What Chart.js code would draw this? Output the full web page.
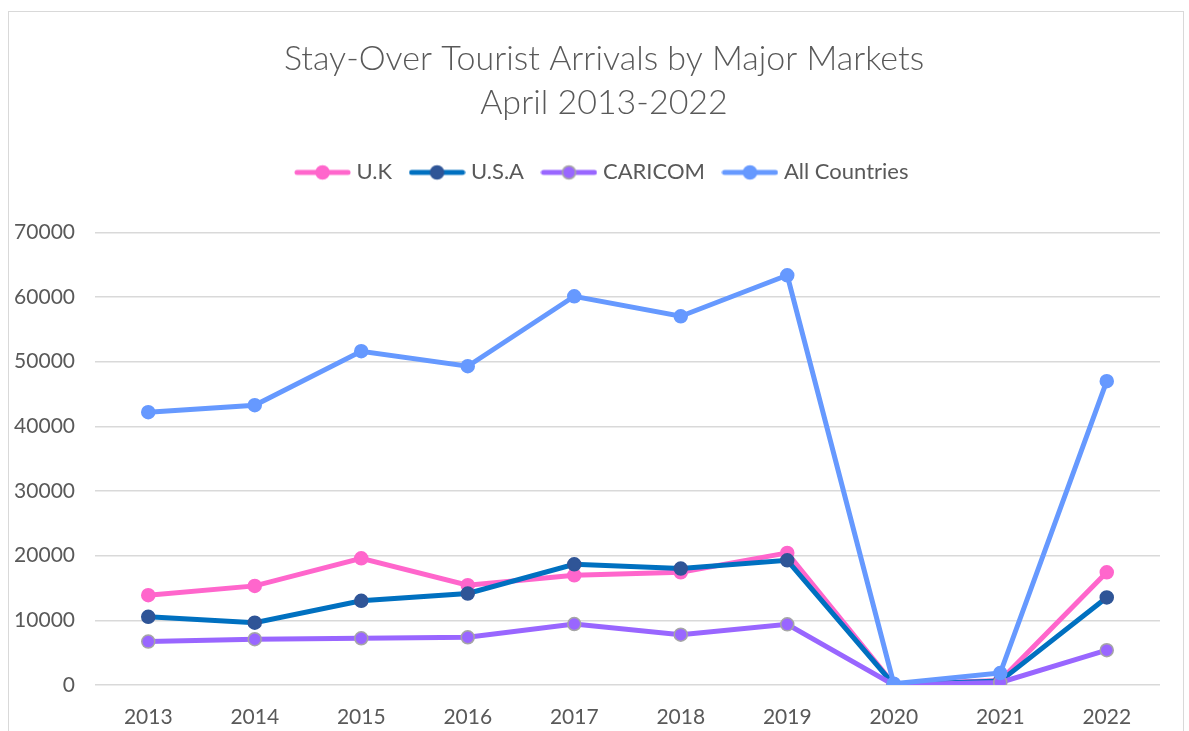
<!DOCTYPE html>
<html>
<head>
<meta charset="utf-8">
<script src="https://cdn.jsdelivr.net/npm/chart.js@4"></script>
<style>
  html, body { margin: 0; padding: 0; background: #fff; overflow: hidden; }
  #frame { position: absolute; left: 8px; top: 11px; width: 1176px; height: 740px; border: 1px solid #d9d9d9; box-sizing: border-box; }
  #wrap { position: absolute; left: 0; top: 0; width: 1194px; height: 731px; }
</style>
</head>
<body>
<div id="frame"></div>
<div id="wrap"><canvas id="chart"></canvas></div>
<script>
const years = ['2013', '2014', '2015', '2016', '2017', '2018', '2019', '2020', '2021', '2022'];
const ukArrivals = [13890, 15330, 19600, 15430, 16970, 17430, 20430, 100, 700, 17430];
const usaArrivals = [10550, 9630, 13020, 14150, 18660, 18000, 19280, 50, 600, 13540];
const caricomArrivals = [6710, 7080, 7230, 7380, 9430, 7790, 9380, 20, 400, 5380];
const allArrivals = [42200, 43280, 51620, 49300, 60120, 57030, 63370, 200, 1850, 46990];
const yTicks = [0, 10000, 20000, 30000, 40000, 50000, 60000, 70000];

const textColor = '#595959';
const fontName = 'Lato, "Open Sans", sans-serif';

// little line+marker swatch for the legend, like Excel's
function makeSwatch(lineColor, pointColor, borderColor) {
  const c = document.createElement('canvas');
  c.width = 57;
  c.height = 18;
  const ctx = c.getContext('2d');
  ctx.strokeStyle = lineColor;
  ctx.lineWidth = 5;
  ctx.lineCap = 'round';
  ctx.beginPath();
  ctx.moveTo(3, 9);
  ctx.lineTo(54, 9);
  ctx.stroke();
  ctx.beginPath();
  ctx.arc(28.5, 9, 6.5, 0, Math.PI * 2);
  ctx.fillStyle = pointColor;
  ctx.fill();
  ctx.lineWidth = 1.5;
  ctx.strokeStyle = borderColor;
  ctx.stroke();
  return c;
}

const series = [
  { label: 'U.K', data: ukArrivals, line: '#ff66cc', point: '#ff66cc', border: '#ff66cc', order: 4 },
  { label: 'U.S.A', data: usaArrivals, line: '#0070c0', point: '#2f5597', border: '#2f5597', order: 3 },
  { label: 'CARICOM', data: caricomArrivals, line: '#9966ff', point: '#9966ff', border: '#a6a6a6', order: 2 },
  { label: 'All Countries', data: allArrivals, line: '#6699ff', point: '#6699ff', border: '#6699ff', order: 1 }
];

const datasets = series.map(s => ({
  label: s.label,
  data: s.data,
  borderColor: s.line,
  backgroundColor: s.point,
  pointBackgroundColor: s.point,
  pointBorderColor: s.border,
  pointBorderWidth: 1.5,
  pointRadius: 6.5,
  borderWidth: 5,
  tension: 0,
  order: s.order
}));

const swatches = series.map(s => makeSwatch(s.line, s.point, s.border));

// extra room between legend and plot
const legendGap = {
  id: 'legendGap',
  beforeInit(chart) {
    const fit = chart.legend.fit;
    chart.legend.fit = function () {
      fit.bind(chart.legend)();
      this.height += 39;
    };
  }
};

new Chart(document.getElementById('chart'), {
  type: 'line',
  data: { labels: years, datasets: datasets },
  plugins: [legendGap],
  options: {
    responsive: true,
    maintainAspectRatio: false,
    animation: false,
    layout: { padding: { left: 14, right: 0, top: 37, bottom: 2 } },
    plugins: {
      title: {
        display: true,
        text: ['Stay-Over Tourist Arrivals by Major Markets', 'April 2013-2022'],
        color: textColor,
        font: { family: fontName, size: 34, weight: '300', lineHeight: 1.3 },
        padding: { top: 0, bottom: 14 }
      },
      legend: {
        position: 'top',
        labels: {
          color: textColor,
          font: { family: fontName, size: 22 },
          usePointStyle: true,
          pointStyleWidth: 46,
          boxHeight: 18,
          padding: 22,
          generateLabels: chart => series.map((s, i) => ({
            text: s.label,
            fillStyle: s.point,
            strokeStyle: s.line,
            fontColor: textColor,
            pointStyle: swatches[i],
            hidden: false,
            datasetIndex: i
          }))
        }
      },
      tooltip: { enabled: false }
    },
    scales: {
      x: {
        offset: true,
        grid: { display: false, drawTicks: false },
        border: { display: false },
        ticks: { color: textColor, font: { family: fontName, size: 21 }, padding: 20 },
        afterFit: axis => { axis.height = 44; }
      },
      y: {
        min: 0,
        max: 70000,
        afterBuildTicks: axis => { axis.ticks = yTicks.map(v => ({ value: v })); },
        grid: { color: '#d9d9d9', lineWidth: 1.5, drawTicks: false },
        border: { display: false },
        ticks: { color: textColor, font: { family: fontName, size: 21 }, padding: 20, callback: v => String(v) },
        afterFit: axis => { axis.width = 81; }
      },
      // empty right-hand margin so the title and legend sit where Excel put them
      yRight: {
        position: 'right',
        display: true,
        grid: { display: false, drawTicks: false },
        border: { display: false },
        ticks: { display: false },
        afterFit: axis => { axis.width = 34; }
      }
    }
  }
});
</script>
</body>
</html>
